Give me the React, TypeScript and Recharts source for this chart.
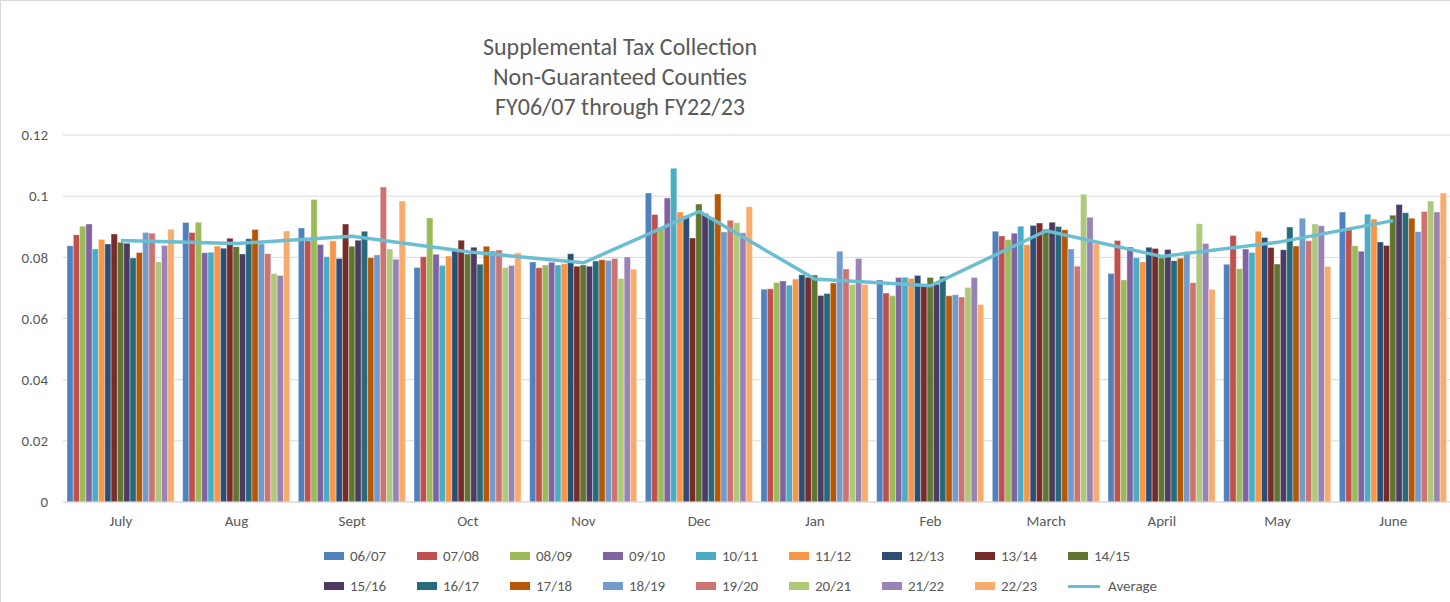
import { Bar, CartesianGrid, ComposedChart, Line, XAxis, YAxis } from "recharts";

const months = ["July", "Aug", "Sept", "Oct", "Nov", "Dec", "Jan", "Feb", "March", "April", "May", "June"];

const fy0607 = [0.0838, 0.0914, 0.0896, 0.0767, 0.0785, 0.101, 0.0696, 0.0726, 0.0885, 0.0747, 0.0777, 0.0948];
const fy0708 = [0.0874, 0.0881, 0.0854, 0.0802, 0.0766, 0.094, 0.0697, 0.0683, 0.087, 0.0855, 0.0871, 0.089];
const fy0809 = [0.0902, 0.0915, 0.0989, 0.0929, 0.0775, 0.0895, 0.0718, 0.0674, 0.0858, 0.0726, 0.0763, 0.0838];
const fy0910 = [0.0909, 0.0815, 0.0842, 0.081, 0.0784, 0.0994, 0.0723, 0.0734, 0.0879, 0.0834, 0.0827, 0.082];
const fy1011 = [0.0827, 0.0817, 0.0802, 0.0773, 0.0775, 0.1091, 0.0709, 0.0735, 0.0902, 0.0799, 0.0816, 0.0941];
const fy1112 = [0.0858, 0.0837, 0.0854, 0.0804, 0.0779, 0.0948, 0.0729, 0.0731, 0.0841, 0.0785, 0.0885, 0.0925];
const fy1213 = [0.0844, 0.083, 0.0796, 0.0827, 0.0812, 0.0936, 0.0743, 0.0741, 0.0904, 0.0833, 0.0865, 0.085];
const fy1314 = [0.0876, 0.0862, 0.0909, 0.0856, 0.0771, 0.0863, 0.0735, 0.0707, 0.0912, 0.0829, 0.0832, 0.0839];
const fy1415 = [0.0849, 0.0835, 0.0836, 0.0811, 0.0775, 0.0974, 0.0742, 0.0734, 0.0892, 0.0798, 0.0778, 0.0938];
const fy1516 = [0.0846, 0.0811, 0.0856, 0.0833, 0.0771, 0.0943, 0.0675, 0.0712, 0.0915, 0.0826, 0.0825, 0.0973];
const fy1617 = [0.0798, 0.0861, 0.0885, 0.0777, 0.0788, 0.093, 0.0682, 0.0738, 0.0901, 0.0789, 0.0899, 0.0946];
const fy1718 = [0.0816, 0.0891, 0.0799, 0.0836, 0.0792, 0.1007, 0.0716, 0.0674, 0.089, 0.0797, 0.0837, 0.0928];
const fy1819 = [0.0881, 0.0844, 0.0808, 0.0821, 0.079, 0.0883, 0.082, 0.0678, 0.0827, 0.0819, 0.0928, 0.0884];
const fy1920 = [0.0879, 0.0812, 0.103, 0.0824, 0.0796, 0.0921, 0.0762, 0.067, 0.0771, 0.0717, 0.0854, 0.095];
const fy2021 = [0.0785, 0.0747, 0.0827, 0.0767, 0.0731, 0.0913, 0.0711, 0.0701, 0.1006, 0.091, 0.0909, 0.0984];
const fy2122 = [0.0839, 0.0741, 0.0794, 0.0773, 0.0801, 0.088, 0.0796, 0.0734, 0.0931, 0.0845, 0.0903, 0.0948];
const fy2223 = [0.0892, 0.0886, 0.0984, 0.0815, 0.0761, 0.0965, 0.0711, 0.0646, 0.0846, 0.0696, 0.077, 0.101];
const average = [0.0855, 0.0845, 0.0869, 0.0818, 0.0782, 0.095, 0.0729, 0.0707, 0.0887, 0.0803, 0.0849, 0.092];

const yTicks = [0, 0.02, 0.04, 0.06, 0.08, 0.1, 0.12];

const series = [
  { name: "06/07", values: fy0607, color: "#4F81BD" },
  { name: "07/08", values: fy0708, color: "#C0504D" },
  { name: "08/09", values: fy0809, color: "#9BBB59" },
  { name: "09/10", values: fy0910, color: "#8064A2" },
  { name: "10/11", values: fy1011, color: "#4BACC6" },
  { name: "11/12", values: fy1112, color: "#F79646" },
  { name: "12/13", values: fy1213, color: "#2C4D75" },
  { name: "13/14", values: fy1314, color: "#772C2A" },
  { name: "14/15", values: fy1415, color: "#5F7530" },
  { name: "15/16", values: fy1516, color: "#4D3B62" },
  { name: "16/17", values: fy1617, color: "#276A7C" },
  { name: "17/18", values: fy1718, color: "#B65708" },
  { name: "18/19", values: fy1819, color: "#729ACA" },
  { name: "19/20", values: fy1920, color: "#CD7371" },
  { name: "20/21", values: fy2021, color: "#AFC97A" },
  { name: "21/22", values: fy2122, color: "#9983B5" },
  { name: "22/23", values: fy2223, color: "#F9AB6B" },
];

const averageColor = "#6BBDD2";
const textColor = "#595959";
const font = "Carlito, Calibri, Lato, sans-serif";

const data = months.map((month, i) => {
  const row: Record<string, string | number> = { month, Average: average[i] };
  series.forEach((s) => {
    row[s.name] = s.values[i];
  });
  return row;
});

function ChartLegend() {
  return (
    <div
      style={{
        position: "absolute",
        left: 323,
        top: 540,
        width: 93 * 9,
        display: "flex",
        flexWrap: "wrap",
        fontFamily: font,
        fontSize: 15,
        color: textColor,
      }}
    >
      {series.map((s) => (
        <div key={s.name} style={{ width: 93, height: 30, display: "flex", alignItems: "center" }}>
          <span style={{ width: 20, height: 8, background: s.color, marginRight: 6 }} />
          {s.name}
        </div>
      ))}
      <div style={{ width: 93, height: 30, display: "flex", alignItems: "center" }}>
        <span style={{ width: 32, height: 3, background: averageColor, marginRight: 8 }} />
        Average
      </div>
    </div>
  );
}

export default function App() {
  return (
    <div
      style={{
        position: "absolute",
        left: 0,
        top: 0,
        width: 1450,
        height: 602,
        background: "#fff",
        boxSizing: "border-box",
        borderLeft: "1px solid #d9d9d9",
        borderTop: "1px solid #d9d9d9",
        fontFamily: font,
      }}
    >
      <div
        style={{
          position: "absolute",
          left: 369,
          top: 31,
          width: 500,
          textAlign: "center",
          fontSize: 24,
          lineHeight: "30px",
          color: textColor,
        }}
      >
        <div>Supplemental Tax Collection</div>
        <div>Non-Guaranteed Counties</div>
        <div>FY06/07 through FY22/23</div>
      </div>
      <ComposedChart
        width={1450}
        height={602}
        data={data}
        margin={{ top: 134, right: 0, bottom: 71, left: 0 }}
        barGap={0}
        barSize={6.3}
      >
        <CartesianGrid stroke="#d9d9d9" vertical={false} />
        <XAxis
          dataKey="month"
          height={30}
          stroke="#d9d9d9"
          tickLine={false}
          tickSize={0}
          tickMargin={13}
          tick={{ fill: textColor, fontSize: 15, fontFamily: font }}
        />
        <YAxis
          width={62}
          domain={[0, 0.12]}
          ticks={yTicks}
          axisLine={false}
          tickLine={false}
          tickSize={0}
          tickMargin={15}
          tick={{ fill: textColor, fontSize: 15, fontFamily: font }}
        />
        {series.map((s) => (
          <Bar
            key={s.name}
            dataKey={s.name}
            fill={s.color}
            stroke="#ffffff"
            strokeOpacity={0.6}
            strokeWidth={0.6}
            isAnimationActive={false}
          />
        ))}
        <Line
          dataKey="Average"
          stroke={averageColor}
          strokeWidth={3.5}
          dot={false}
          type="linear"
          isAnimationActive={false}
        />
      </ComposedChart>
      <ChartLegend />
    </div>
  );
}
